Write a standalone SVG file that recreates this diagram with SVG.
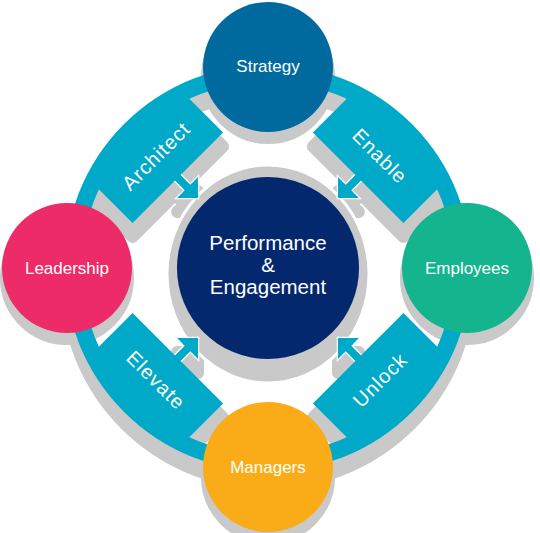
<svg xmlns="http://www.w3.org/2000/svg" width="540" height="533" viewBox="0 0 540 533">
<defs>
<style>
.lbl{font-family:"Liberation Sans",Arial,sans-serif;fill:#ffffff;text-anchor:middle}
.node{font-size:17px}
.mid{font-size:20.5px}
.arc{font-size:20px;letter-spacing:1px}
.halo{fill:#c9c9c9;stroke:#c9c9c9;stroke-linejoin:round}
.cy{fill:#00a9c8}
</style>
<path id="box" d="M127.5,-64 H184.2 A195,195 0 0 1 184.2,64 H127.5 Z"/>
<path id="arrow" d="M129,-4 H113.8 V-14.8 L99,0 L113.8,14.8 V4 H129 Z"/>
<g id="quad">
<use href="#box"/>
<use href="#arrow"/>
</g>
</defs>
<rect width="540" height="533" fill="#ffffff"/>
<g id="shadow">
<circle cx="268" cy="282" r="195" fill="none" stroke="#c9c9c9" stroke-width="25"/>
<g class="halo" stroke-width="12" transform="translate(0 14)">
<use href="#quad" transform="translate(268 268) rotate(-135)"/>
<use href="#quad" transform="translate(268 268) rotate(-45)"/>
<use href="#quad" transform="translate(268 268) rotate(45)"/>
<use href="#quad" transform="translate(268 268) rotate(135)"/>
</g>
<ellipse cx="268" cy="274" rx="101" ry="109" fill="#c9c9c9" stroke="#ffffff" stroke-width="3"/>
<g class="halo" stroke-width="4" transform="translate(0 10)">
<circle cx="268" cy="67" r="65"/>
<circle cx="467" cy="268" r="65"/>
<circle cx="268" cy="467" r="65"/>
<circle cx="67" cy="268" r="65"/>
</g>
</g>
<g id="connectors">
<circle cx="268" cy="268" r="195" fill="none" stroke="#00a9c8" stroke-width="17"/>
<g class="cy" stroke="#ffffff" stroke-width="2.5">
<use href="#arrow" transform="translate(268 268) rotate(-135)"/>
<use href="#arrow" transform="translate(268 268) rotate(-45)"/>
<use href="#arrow" transform="translate(268 268) rotate(45)"/>
<use href="#arrow" transform="translate(268 268) rotate(135)"/>
</g>
<g class="cy">
<use href="#quad" transform="translate(268 268) rotate(-135)"/>
<use href="#quad" transform="translate(268 268) rotate(-45)"/>
<use href="#quad" transform="translate(268 268) rotate(45)"/>
<use href="#quad" transform="translate(268 268) rotate(135)"/>
</g>
<text class="lbl arc" transform="translate(156 156) rotate(-45)" y="7">Architect</text>
<text class="lbl arc" transform="translate(380 156) rotate(45)" y="7">Enable</text>
<text class="lbl arc" transform="translate(156 380) rotate(45)" y="7">Elevate</text>
<text class="lbl arc" transform="translate(380 380) rotate(-45)" y="7">Unlock</text>
</g>
<g id="center">
<circle cx="268" cy="268" r="91" fill="#04286d"/>
<text class="lbl mid" x="268" y="250">Performance</text>
<text class="lbl mid" x="268" y="272">&amp;</text>
<text class="lbl mid" x="268" y="294">Engagement</text>
</g>
<g id="strategy">
<circle cx="268" cy="67" r="65" fill="#006a9e"/>
<text class="lbl node" x="268" y="72">Strategy</text>
</g>
<g id="employees">
<circle cx="467" cy="268" r="65" fill="#14b48f"/>
<text class="lbl node" x="467" y="274">Employees</text>
</g>
<g id="managers">
<circle cx="268" cy="467" r="65" fill="#faac18"/>
<text class="lbl node" x="268" y="473">Managers</text>
</g>
<g id="leadership">
<circle cx="67" cy="268" r="65" fill="#ec2b68"/>
<text class="lbl node" x="67" y="274">Leadership</text>
</g>
</svg>
